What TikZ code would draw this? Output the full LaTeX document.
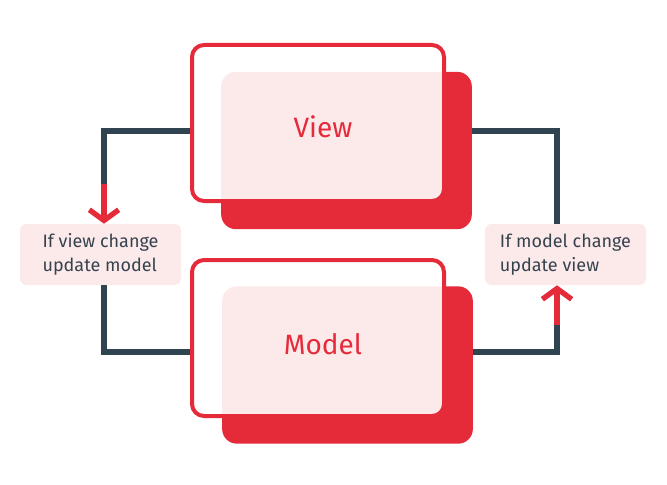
\documentclass[tikz,border=0pt]{standalone}
\usepackage{fontspec}
\setmainfont{Fira Sans}
\usepackage{xcolor}
\usepackage{tikz}
\usetikzlibrary{arrows.meta, positioning, calc}

\definecolor{mvred}{HTML}{E52A3A}
\definecolor{mvpink}{HTML}{FCE9EA}
\definecolor{mvslate}{HTML}{2F4351}
\definecolor{mvtext}{HTML}{36434E}

\begin{document}
\begin{tikzpicture}[
        x=0.75pt, y=-0.75pt,
        shadowbox/.style={rectangle, rounded corners=11pt, fill=mvred,
            minimum width=188pt, minimum height=118pt, inner sep=0pt},
        framebox/.style={rectangle, rounded corners=9pt, draw=mvred,
            line width=3pt, fill=white, fill opacity=0.9,
            minimum width=189pt, minimum height=117pt, inner sep=0pt},
        title/.style={text=mvred, font=\fontsize{21}{25}\selectfont},
        note/.style={rectangle, rounded corners=5pt, fill=mvpink,
            minimum width=120.75pt, minimum height=45.75pt, text=mvtext,
            align=left, font=\fontsize{13.5}{17.5}\selectfont},
        wire/.style={draw=mvslate, line width=4.5pt},
        flow/.style={draw=mvred, line width=4pt,
            -{Straight Barb[length=8pt, width=22pt]}},
    ]

    \useasboundingbox (0,0) rectangle (667,485);

    % 1. View
    \node[shadowbox] (viewbg) at (346.5,150.5) {};
    \node[framebox] (viewfg) at (318,123) {};
    \node[title] (viewtxt) at (323,127) {View};

    % 2. Model
    \node[shadowbox] (modelbg) at (347.5,365) {};
    \node[framebox] (modelfg) at (318,338) {};
    \node[title] (modeltxt) at (323,344) {Model};

    % 3. Notes
    \node[note] (lnote) at (100.5,254.5) {If view change\\update model};
    \node[note] (rnote) at (565.5,254.5) {If model change\\update view};

    \coordinate (lturn) at (104,184);
    \coordinate (rturn) at (557,325);

    % --- Arrows ---
    \draw[wire] ($(viewfg.west)+(0,8)$) -| (lturn);
    \draw[flow] (lturn) -- (lturn |- lnote.north);
    \draw[wire] (lturn |- lnote.south) |- ($(modelfg.west)+(0,14)$);
    \draw[wire] ($(viewbg.east)+(0,-19.5)$) -| (rturn |- rnote.north);
    \draw[wire] ($(modelbg.east)+(0,-13)$) -| (rturn);
    \draw[flow] (rturn) -- (rturn |- rnote.south);

\end{tikzpicture}
\end{document}
